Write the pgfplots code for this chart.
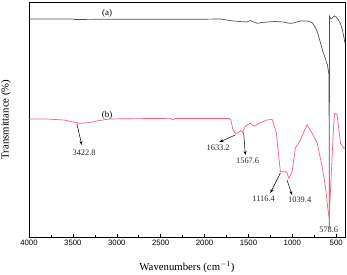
\documentclass[border=0pt]{standalone}
\usepackage{pgfplots}
\pgfplotsset{compat=1.18}
\usepackage{fontspec}
\setmainfont{Liberation Serif}
\newfontfamily\arial{Liberation Sans}
\usetikzlibrary{arrows.meta}
\definecolor{curveA}{RGB}{80,80,80}
\definecolor{curveB}{RGB}{255,90,130}
\begin{document}
\begin{tikzpicture}
\begin{axis}[
  scale only axis,
  width=316bp, height=235bp,
  x dir=reverse,
  xmin=400, xmax=4000,
  ymin=0, ymax=235,
  xtick={500,1000,...,4000},
  minor x tick num=1,
  ytick=\empty,
  tick pos=bottom,
  tick align=inside,
  major tick length=3bp,
  minor tick length=2bp,
  xticklabel style={font=\arial\fontsize{7.8}{8}\selectfont},
  /pgf/number format/assume math mode=true,
  /pgf/number format/1000 sep={},
  xlabel={Wavenumbers (cm$^{\mathrm{-1}}$)},
  ylabel={Transmittance (\%)},
  label style={font=\fontsize{10.8}{12}\selectfont},
  xlabel style={at={(axis description cs:0.5,0)}, anchor=center, yshift=-30bp},
  ylabel style={at={(axis description cs:0,0.5)}, anchor=center, rotate=0, yshift=23bp},
  axis line style={black, line width=0.6pt},
  every tick/.style={black, line width=0.5pt},
  clip=false,
]
\coordinate (SW) at (rel axis cs:0,0);
\coordinate (NE) at (rel axis cs:1,1);
% curve (a)
\addplot[curveA, line width=0.7pt] coordinates {
(4000,218) (3700,218) (3500,218) (3480,217.5) (3200,217.7) (3000,217.7) (2500,217.8) (2000,217.8)
(1821,218) (1750,217) (1672,216) (1600,215.5) (1520,215) (1478,216.5) (1440,215) (1398,213.7)
(1350,214.5) (1284,215) (1200,215.5) (1102,215) (1050,214) (1022,213.7) (988,214) (907,216)
(851,216) (828,216) (790,215) (771,214) (740,210) (714,205) (685,196) (657,187) (630,180) (600,172) (582,162)
(578.6,9) (577,221) (560,218) (535,220) (520,221) (500,220) (474,217) (450,213) (429,207) (400,194)
};
% curve (b)
\addplot[curveB, line width=0.7pt] coordinates {
(4000,118) (3800,118) (3600,117) (3498,115) (3422,113.7) (3304,114.5) (3200,116.5) (3076,118)
(2900,118.3) (2700,118.4) (2500,118.5) (2380,118.3) (2357,117) (2340,118.4) (2100,118.5) (1900,118.5)
(1720,118.5) (1700,117) (1676,107) (1650,104) (1633,103.5) (1604,105.3) (1585,106.5) (1567,104.8)
(1540,110) (1516,112) (1478,113.7) (1450,111.5) (1421,111) (1387,113.7) (1330,115.5) (1288,117)
(1231,117.7) (1216,114) (1182,104) (1159,84) (1136,65.3) (1116,65.3) (1079,65.3) (1060,64)
(1039,58.7) (1003,65.3) (965,89) (908,97) (870,105) (832,112) (774,103.7) (717,94) (660,70.3)
(623,50.3) (595,28) (580,18.7) (558,60.3) (528,113.7) (517,123.7) (489,122) (451,93.7) (414,88.7) (395,90.3)
};
% labels
\node[font=\fontsize{9}{10}\selectfont] at (axis cs:3110,224) {(a)};
\node[font=\fontsize{9}{10}\selectfont] at (axis cs:3110,122) {(b)};
\tikzset{ann/.style={-{Stealth[length=4bp,width=3bp]}, black, line width=0.5pt},
         lab/.style={font=\fontsize{8.4}{9}\selectfont, text=black!85}}
\draw[ann] (axis cs:3455,113.5) -- (axis cs:3399,92);
\node[lab] at (axis cs:3372,84.3) {3422.8};
\draw[ann] (axis cs:1650,102) -- (axis cs:1830,95);
\node[lab] at (axis cs:1845,89.7) {1633.2};
\draw[ann] (axis cs:1555,104.5) -- (axis cs:1535,82);
\node[lab] at (axis cs:1509,76.3) {1567.6};
\draw[ann] (axis cs:1136,64) -- (axis cs:1250,44);
\node[lab] at (axis cs:1327,38.7) {1116.4};
\draw[ann] (axis cs:1060,57) -- (axis cs:1003,42);
\node[lab] at (axis cs:916,37) {1039.4};
\node[lab] at (axis cs:585,7.7) {578.6};
\end{axis}
\pgfresetboundingbox
\path[use as bounding box] ([shift={(-29bp,-38bp)}]SW) rectangle ([shift={(2bp,2bp)}]NE);
\end{tikzpicture}
\end{document}
